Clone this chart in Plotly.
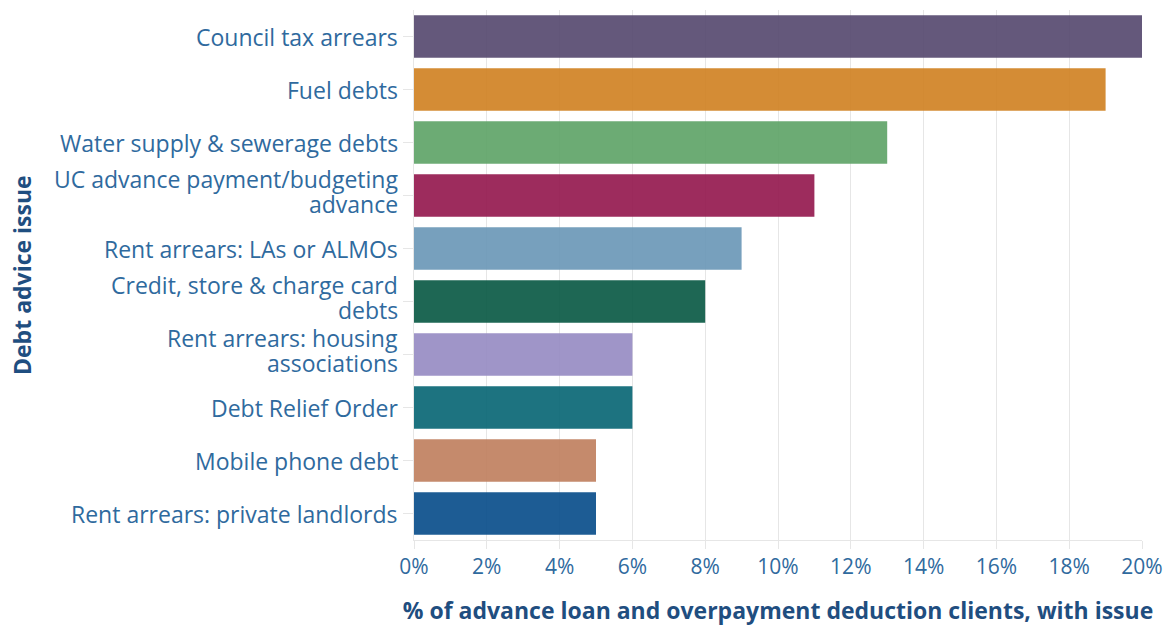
import plotly.graph_objects as go

issues = [
    "Council tax arrears",
    "Fuel debts",
    "Water supply & sewerage debts",
    "UC advance payment/budgeting<br>advance",
    "Rent arrears: LAs or ALMOs",
    "Credit, store & charge card<br>debts",
    "Rent arrears: housing<br>associations",
    "Debt Relief Order",
    "Mobile phone debt",
    "Rent arrears: private landlords",
]
share_pct = [20, 19, 13, 11, 9, 8, 6, 6, 5, 5]
bar_colors = [
    "#574a70", "#d08224", "#5fa468", "#951a4f", "#6b98b7",
    "#0b5a45", "#978cc3", "#0a6775", "#c0805f", "#0a4e8b",
]

LABEL_BLUE = "#2f6a9e"
TITLE_BLUE = "#1f4e80"
GRID = "#e6e6e6"

fig = go.Figure(
    go.Bar(
        x=share_pct,
        y=issues,
        orientation="h",
        marker=dict(color=bar_colors, opacity=0.92, line=dict(width=0)),
        hovertemplate="%{y}: %{x}%<extra></extra>",
    )
)

# Category labels drawn as annotations so wrapped labels keep tight line spacing
annotations = []
for issue in issues:
    lines = issue.split("<br>")
    shifts = [0] if len(lines) == 1 else [17, -8]
    for line, dy in zip(lines, shifts):
        annotations.append(
            dict(
                text=line,
                xref="paper",
                x=0,
                yref="y",
                y=issue,
                xanchor="right",
                yanchor="middle",
                xshift=-14,
                yshift=dy,
                showarrow=False,
                font=dict(size=23, color=LABEL_BLUE),
            )
        )

# Vertical axis title
annotations.append(
    dict(
        text="<b>Debt advice issue</b>",
        xref="paper",
        x=0,
        yref="paper",
        y=0.5,
        xanchor="center",
        yanchor="middle",
        xshift=-392,
        textangle=-90,
        showarrow=False,
        font=dict(size=23, color=TITLE_BLUE),
    )
)

fig.update_layout(
    width=1169,
    height=626,
    margin=dict(l=414, r=27, t=10, b=86),
    plot_bgcolor="white",
    paper_bgcolor="white",
    bargap=0.2,
    showlegend=False,
    font=dict(family="Open Sans", color=LABEL_BLUE),
    annotations=annotations,
)

fig.update_xaxes(
    range=[0, 20],
    dtick=2,
    ticksuffix="%",
    automargin=False,
    showgrid=True,
    gridcolor=GRID,
    zeroline=False,
    showline=True,
    linecolor=GRID,
    ticks="outside",
    ticklen=8,
    tickcolor=GRID,
    tickfont=dict(size=21, color=LABEL_BLUE),
    title=dict(
        text="<b>% of advance loan and overpayment deduction clients, with issue</b>",
        font=dict(size=23, color=TITLE_BLUE),
        standoff=24,
    ),
)

fig.update_yaxes(
    categoryorder="array",
    categoryarray=issues[::-1],
    automargin=False,
    showgrid=False,
    showline=True,
    linecolor=GRID,
    ticks="outside",
    ticklen=10,
    tickcolor=GRID,
    showticklabels=False,
)

fig.write_html("out.html")
